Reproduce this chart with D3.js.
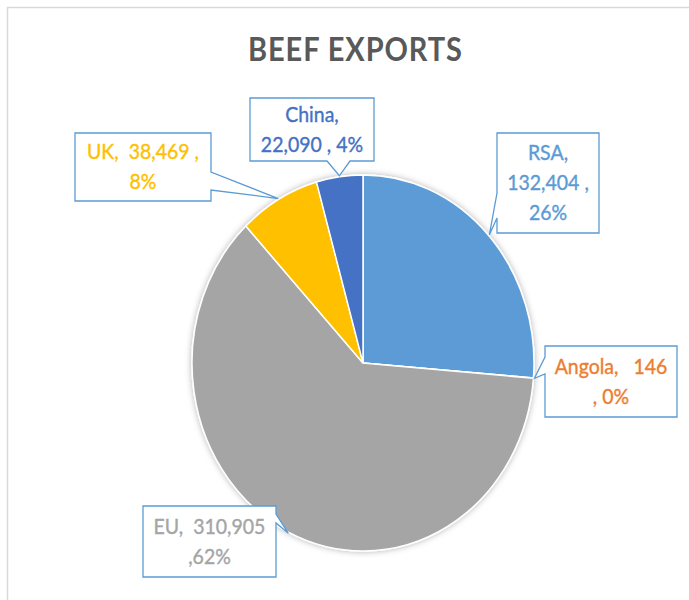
<!DOCTYPE html>
<html lang="en">
<head>
<meta charset="UTF-8">
<title>Beef Exports</title>
<script src="https://d3js.org/d3.v7.min.js"></script>
<style>
    body { margin: 0; background: #fff; }
    text { font-family: Lato, "Open Sans", sans-serif; white-space: pre; }
</style>
</head>
<body>
<div id="chart"></div>
<script>
    // data, in Excel pie order (clockwise from 12 o'clock)
    let names = ["RSA", "Angola", "EU", "UK", "China"];
    let values = [132404, 146, 310905, 38469, 22090];
    let colors = ["#5B9BD5", "#ED7D31", "#A5A5A5", "#FFC000", "#4472C4"];
    let title = "BEEF EXPORTS";

    // callout layout: box, side the pointer leaves from, and line templates
    let callouts = {
        "RSA":    {x: 497, y: 133, w: 102, h: 100, side: "left",   a: 193, b: 218, lines: ["{n},", "{v} ,", "{p}%"]},
        "Angola": {x: 545, y: 346, w: 132, h: 71,  side: "left",   a: 357, b: 374, lines: ["{n},   {v}", ", {p}%"]},
        "EU":     {x: 143, y: 506, w: 133, h: 71,  side: "right",  a: 514, b: 523, lines: ["{n},  {v}", ",{p}%"]},
        "UK":     {x: 75,  y: 133, w: 136, h: 68,  side: "right",  a: 172, b: 190, lines: ["{n},  {v} ,", "{p}%"]},
        "China":  {x: 250, y: 98,  w: 124, h: 63,  side: "bottom", a: 327, b: 350, lines: ["{n},", "{v} , {p}%"]}
    };

    let width = 689, height = 600;
    let cx = 363, cy = 363, rx = 171, ry = 188;

    let svg = d3.select("#chart").append("svg")
        .attr("width", width)
        .attr("height", height);

    // chart area frame
    svg.append("rect")
        .attr("x", 7.5).attr("y", 7.5)
        .attr("width", width).attr("height", height)
        .attr("fill", "#fff")
        .attr("stroke", "#d9d9d9")
        .attr("stroke-width", 1.5);

    let defs = svg.append("defs");
    defs.append("filter").attr("id", "shadow")
        .attr("x", "-10%").attr("y", "-10%").attr("width", "120%").attr("height", "120%")
        .append("feDropShadow")
        .attr("dx", 0).attr("dy", 0)
        .attr("stdDeviation", 3)
        .attr("flood-color", "#000")
        .attr("flood-opacity", 0.3);

    svg.append("text")
        .attr("x", 355).attr("y", 0)
        .attr("transform", "translate(0,61) scale(1,1.1)")
        .attr("text-anchor", "middle")
        .attr("font-size", 29)
        .attr("font-weight", "bold")
        .attr("fill", "#595959")
        .attr("textLength", 214)
        .text(title);

    let total = d3.sum(values);
    let data = names.map((n, i) => ({name: n, value: values[i], color: colors[i]}));

    let pie = d3.pie().sort(null).value(d => d.value);
    let arcs = pie(data);
    let arc = d3.arc().innerRadius(0).outerRadius(rx);

    let pieG = svg.append("g")
        .attr("transform", `translate(${cx},${cy}) scale(1,${ry / rx})`)
        .attr("filter", "url(#shadow)");

    pieG.selectAll("path.slice")
        .data(arcs)
        .join("path")
        .attr("class", "slice")
        .attr("d", arc)
        .attr("fill", d => d.data.color)
        .attr("stroke", "#fff")
        .attr("stroke-width", 1.5)
        .attr("vector-effect", "non-scaling-stroke");

    function calloutPath(c, tip) {
        let x0 = c.x, y0 = c.y, x1 = c.x + c.w, y1 = c.y + c.h;
        let [tx, ty] = tip;
        let p;
        if (c.side === "left") {
            p = [[x0, y0], [x1, y0], [x1, y1], [x0, y1], [x0, c.b], [tx, ty], [x0, c.a]];
        } else if (c.side === "right") {
            p = [[x0, y0], [x1, y0], [x1, c.a], [tx, ty], [x1, c.b], [x1, y1], [x0, y1]];
        } else {
            p = [[x0, y0], [x1, y0], [x1, y1], [c.b, y1], [tx, ty], [c.a, y1], [x0, y1]];
        }
        return "M" + p.map(q => q.join(",")).join("L") + "Z";
    }

    let fmt = d3.format(",");
    let labelG = svg.append("g");

    arcs.forEach(d => {
        let c = callouts[d.data.name];
        let mid = (d.startAngle + d.endAngle) / 2;
        let tip = [cx + (rx + 1) * Math.sin(mid), cy - (ry + 1) * Math.cos(mid)];
        labelG.append("path")
            .attr("d", calloutPath(c, tip))
            .attr("fill", "#fff")
            .attr("stroke", "#5B9BD5")
            .attr("stroke-width", 1.3)
            .attr("stroke-linejoin", "miter");

        let pct = Math.round(d.data.value / total * 100);
        let lineH = 30;
        let n = c.lines.length;
        let baseY = c.y + c.h / 2 - (n - 1) * lineH / 2 + 7;
        c.lines.forEach((tpl, i) => {
            let s = tpl.replace("{n}", d.data.name).replace("{v}", fmt(d.data.value)).replace("{p}", pct);
            let y = baseY + i * lineH;
            labelG.append("text")
                .attr("x", c.x + c.w / 2).attr("y", 0)
                .attr("transform", `translate(0,${y}) scale(1,1.1)`)
                .attr("text-anchor", "middle")
                .attr("font-size", 19.5)
                .attr("fill", d.data.color)
                .attr("stroke", d.data.color)
                .attr("stroke-width", 0.35)
                .text(s);
        });
    });
</script>
</body>
</html>
